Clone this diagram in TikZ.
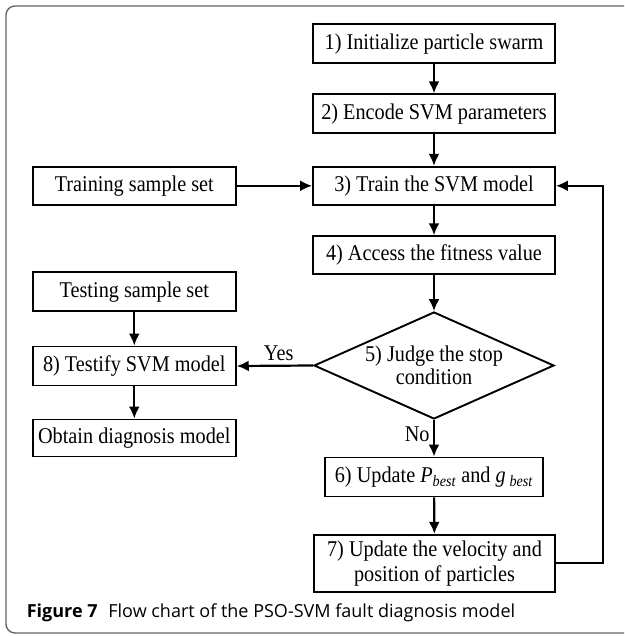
\documentclass[tikz,border=0pt]{standalone}
\usepackage{fontspec}
\setmainfont[FakeStretch=0.9]{Liberation Serif}
\newfontfamily\capfont{Open Sans}
\usetikzlibrary{shapes.geometric,arrows.meta}

\begin{document}
\begin{tikzpicture}[x=1pt,y=-1pt,>={Latex[length=12pt,width=11pt]},
	box/.style={draw,line width=1.9pt,inner sep=0pt,align=center,font=\fontsize{22.5}{25}\selectfont},
	judge/.style={draw,diamond,shape aspect=2.24,line width=1.9pt,inner sep=0pt,align=center,font=\fontsize{22.5}{23}\selectfont},
	flow/.style={->,line width=2.2pt}]
	\useasboundingbox (0,0) rectangle (624,636);
	\draw [line width=1.4pt, color=black!60, rounded corners=9pt] (624,6) -- (6,6) -- (6,633) -- (624,633);
	% main column
	\node [box, minimum width=242pt, minimum height=39pt] (init) at (434,43.7) {1) Initialize particle swarm};
	\node [box, minimum width=242pt, minimum height=39pt] (encode) at (434,113.8) {2) Encode SVM parameters};
	\node [box, minimum width=242pt, minimum height=38pt] (train) at (434,185.8) {3) Train the SVM model};
	\node [box, minimum width=242pt, minimum height=38pt] (fitness) at (434,255.2) {4) Access the fitness value};
	\node [judge, minimum width=240pt, minimum height=107pt] (stop) at (434,365.5) {5) Judge the stop\\condition};
	\node [box, minimum width=218pt, minimum height=39pt] (best) at (434,477) {6) Update \textit{P}\textsubscript{\textit{best}} and \textit{g}\,\textsubscript{\textit{best}}};
	\node [box, minimum width=241pt, minimum height=57pt] (move) at (434.5,563.3) {7) Update the velocity and\\position of particles};
	% left column
	\node [box, minimum width=203pt, minimum height=38pt] (trainset) at (134.3,185.8) {Training sample set};
	\node [box, minimum width=203pt, minimum height=39pt] (testset) at (134.3,291.7) {Testing sample set};
	\node [box, minimum width=203pt, minimum height=39pt] (testify) at (134.3,366) {8) Testify SVM model};
	\node [box, minimum width=203pt, minimum height=37pt] (obtain) at (134.3,438) {Obtain diagnosis model};
	\coordinate (loop) at (603.3,563.3);
	\draw [flow] (init) -- (encode);
	\draw [flow] (encode) -- (train);
	\draw [flow] (train) -- (fitness);
	\draw [flow] (fitness) -- (stop);
	\draw [flow] (stop) -- node [pos=0.4, left, font=\fontsize{22.5}{23}\selectfont] (no) {No} (best);
	\draw [flow] (best) -- (move);
	\draw [flow] (move.east) -- (loop) |- (train.east);
	\draw [flow] (trainset) -- (train);
	\draw [flow] (testset) -- (testify);
	\draw [flow] (stop.west) -- node [above=1pt, pos=0.45, font=\fontsize{22.5}{23}\selectfont] (yes) {Yes} (testify.east);
	\draw [flow] (testify) -- (obtain);
	\node [anchor=base west, font=\capfont\fontsize{18}{21}\selectfont] (caption) at (23.3,617.7) {\textbf{Figure 7}\hspace{0.6em}Flow chart of the PSO-SVM fault diagnosis model};
\end{tikzpicture}
\end{document}
